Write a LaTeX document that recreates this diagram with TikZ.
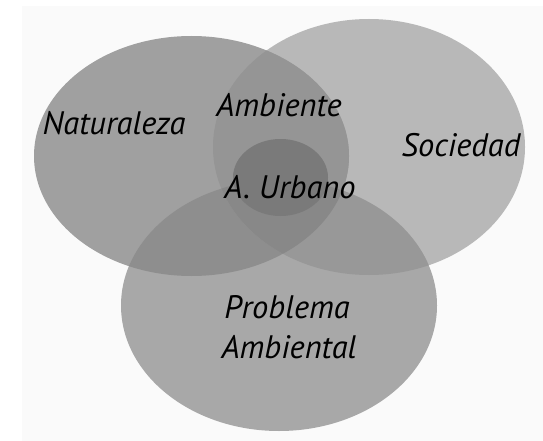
\documentclass[tikz,border=0pt]{standalone}
\usepackage{fontspec}
\setmainfont{PT Sans}
\begin{document}
\begin{tikzpicture}[x=1pt,y=-1pt,
  lbl/.style={font=\itshape\fontsize{32.5}{38}\selectfont, text=black, inner sep=0pt, anchor=base}]
\definecolor{bgc}{HTML}{FAFAFA}
\definecolor{cL}{HTML}{A0A0A0}
\definecolor{cR}{HTML}{B8B8B8}
\definecolor{cB}{HTML}{A8A8A8}
\definecolor{cLR}{HTML}{959595}
\definecolor{cLB}{HTML}{8E8E8E}
\definecolor{cRB}{HTML}{989898}
\definecolor{cLRB}{HTML}{888888}
\definecolor{cU}{HTML}{7A7A7A}
\useasboundingbox (0,0) rectangle (543,441);
\fill[white] (0,0) rectangle (543,441);
\fill[bgc] (22,6) rectangle (543,441);
\def\ellL{(191.5,156) ellipse [x radius=157.5, y radius=120]}
\def\ellR{(369,147) ellipse [x radius=156, y radius=128]}
\def\ellB{(279,305.5) ellipse [x radius=158, y radius=125.5]}
\fill[cR] \ellR;
\fill[cL] \ellL;
\fill[cB] \ellB;
\begin{scope}\clip \ellL; \fill[cLR] \ellR; \end{scope}
\begin{scope}\clip \ellL; \fill[cLB] \ellB; \end{scope}
\begin{scope}\clip \ellR; \fill[cRB] \ellB; \end{scope}
\begin{scope}\clip \ellL; \clip \ellR; \fill[cLRB] \ellB; \end{scope}
\fill[cU] (280.5,177.5) ellipse [x radius=47.5, y radius=38.5];
\node[lbl] (nat) at (114,135) {Naturaleza};
\node[lbl] (amb) at (279,117) {Ambiente};
\node[lbl] (soc) at (461,157) {Sociedad};
\node[lbl] (urb) at (290,198) {A. Urbano};
\node[lbl] (pro) at (287,318) {Problema};
\node[lbl] (amt) at (289,358) {Ambiental};
\end{tikzpicture}
\end{document}
